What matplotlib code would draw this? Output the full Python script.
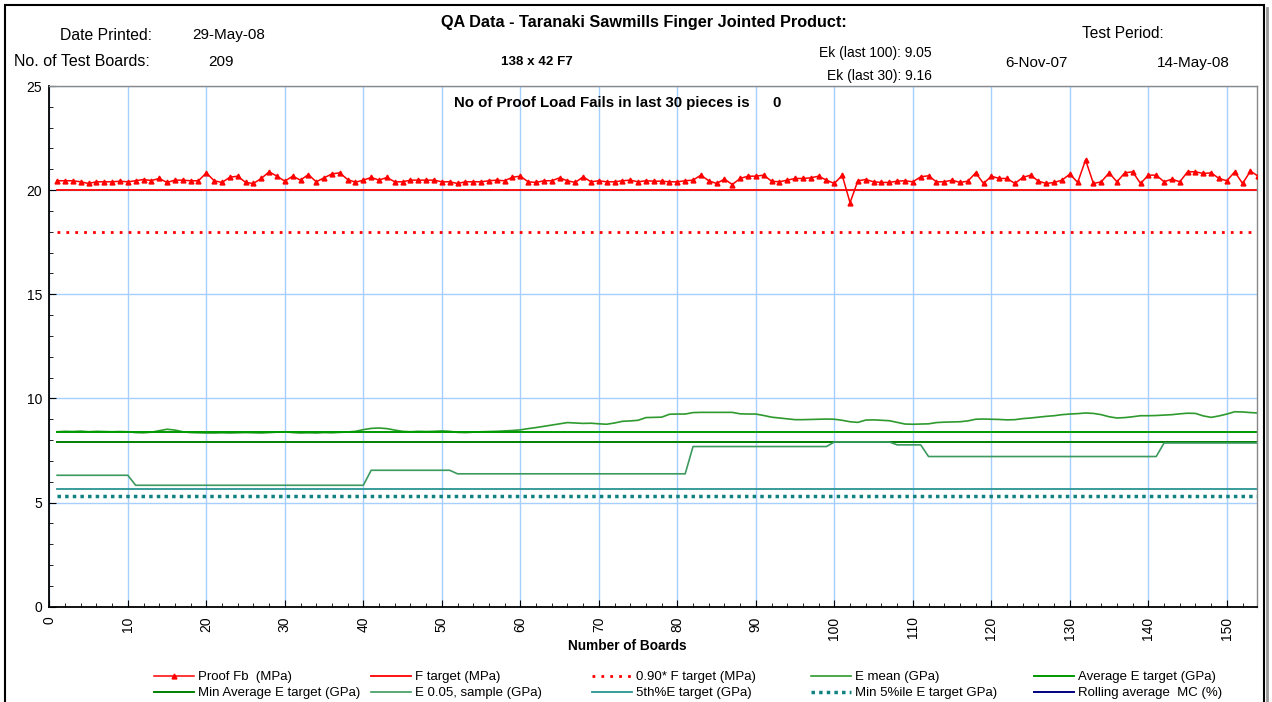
import numpy as np
import matplotlib
matplotlib.use("Agg")
import matplotlib.pyplot as plt
from matplotlib.lines import Line2D
from matplotlib.patches import Rectangle
from matplotlib.ticker import MultipleLocator

plt.rcParams['font.family'] = ['Liberation Sans', 'DejaVu Sans']

# ---- data ----
boards = np.arange(1, 155)

proof_fb = [
    20.45, 20.45, 20.45, 20.40, 20.32, 20.40, 20.40, 20.40, 20.43, 20.40,
    20.45, 20.51, 20.46, 20.56, 20.37, 20.48, 20.48, 20.45, 20.45, 20.83,
    20.45, 20.37, 20.62, 20.67, 20.37, 20.32, 20.56, 20.88, 20.67, 20.43,
    20.67, 20.48, 20.75, 20.40, 20.59, 20.78, 20.83, 20.51, 20.38, 20.48,
    20.61, 20.48, 20.61, 20.40, 20.40, 20.48, 20.48, 20.48, 20.48, 20.40,
    20.40, 20.32, 20.40, 20.40, 20.40, 20.45, 20.48, 20.45, 20.62, 20.67,
    20.40, 20.37, 20.45, 20.45, 20.59, 20.45, 20.37, 20.64, 20.40, 20.45,
    20.40, 20.40, 20.45, 20.48, 20.40, 20.45, 20.43, 20.43, 20.40, 20.40,
    20.45, 20.48, 20.72, 20.45, 20.32, 20.53, 20.27, 20.56, 20.67, 20.67,
    20.72, 20.43, 20.40, 20.48, 20.56, 20.56, 20.59, 20.67, 20.48, 20.32,
    20.71, 19.40, 20.45, 20.51, 20.40, 20.37, 20.37, 20.43, 20.45, 20.40,
    20.64, 20.69, 20.40, 20.40, 20.48, 20.37, 20.43, 20.83, 20.32, 20.67,
    20.56, 20.56, 20.32, 20.61, 20.72, 20.43, 20.32, 20.37, 20.48, 20.77,
    20.37, 21.45, 20.32, 20.40, 20.83, 20.40, 20.83, 20.88, 20.32, 20.72,
    20.72, 20.40, 20.53, 20.40, 20.88, 20.88, 20.80, 20.83, 20.56, 20.45,
    20.88, 20.32, 20.91, 20.67,
]

e_mean = [
    8.40, 8.42, 8.41, 8.43, 8.40, 8.42, 8.41, 8.40, 8.41, 8.40,
    8.36, 8.35, 8.38, 8.45, 8.52, 8.48, 8.40, 8.36, 8.35, 8.34,
    8.34, 8.35, 8.34, 8.35, 8.36, 8.35, 8.34, 8.36, 8.38, 8.40,
    8.36, 8.34, 8.35, 8.34, 8.36, 8.35, 8.37, 8.39, 8.42, 8.50,
    8.56, 8.58, 8.55, 8.48, 8.42, 8.40, 8.42, 8.41, 8.42, 8.44,
    8.42, 8.37, 8.36, 8.38, 8.40, 8.41, 8.42, 8.44, 8.46, 8.49,
    8.55, 8.60, 8.66, 8.72, 8.78, 8.84, 8.82, 8.80, 8.81, 8.78,
    8.76, 8.82, 8.90, 8.92, 8.95, 9.08, 9.09, 9.10, 9.24, 9.25,
    9.25, 9.32, 9.33, 9.33, 9.33, 9.33, 9.33, 9.26, 9.25, 9.25,
    9.18, 9.10, 9.06, 9.02, 8.98, 8.98, 8.99, 9.00, 9.01, 9.00,
    8.95, 8.88, 8.85, 8.96, 8.97, 8.95, 8.93, 8.85, 8.77, 8.76,
    8.77, 8.78, 8.84, 8.86, 8.87, 8.88, 8.92, 9.00, 9.01, 9.00,
    8.99, 8.97, 8.98, 9.03, 9.06, 9.10, 9.14, 9.17, 9.22, 9.25,
    9.27, 9.30, 9.28, 9.22, 9.12, 9.06, 9.08, 9.12, 9.17, 9.17,
    9.18, 9.20, 9.22, 9.26, 9.29, 9.28, 9.16, 9.09, 9.16, 9.25,
    9.36, 9.35, 9.32, 9.30,
]

# E 0.05 sample is a step series: level and how many boards it holds for
e05_levels = [6.31, 5.83, 6.55, 6.38, 7.69, 7.91, 7.77, 7.21, 7.86]
e05_counts = [10, 30, 11, 30, 18, 8, 4, 30, 13]
e05 = np.repeat(e05_levels, e05_counts)

f_target = 20.0
f_target_90 = 18.0
avg_e_target = 8.4
min_avg_e_target = 7.9
e5_target = 5.65
min_e5_target = 5.3
rolling_mc = []  # in legend only, nothing plotted in range

W, H = 1272, 702


def fx(px):
    return px / W


def fy(py):
    return 1 - py / H


fig = plt.figure(figsize=(W / 100, H / 100), dpi=100)
ax = fig.add_axes([fx(49.3), fy(606.7), fx(1256.7) - fx(49.3), fy(86) - fy(606.7)])

span = [boards[0], boards[-1]]
h_fb, = ax.plot(boards, proof_fb, color="#FF0000", lw=1.1, marker="^", ms=3.5,
                label="Proof Fb  (MPa)", zorder=5)
h_ft, = ax.plot(span, [f_target] * 2, color="#FF0000", lw=1.3, label="F target (MPa)")
h_f90, = ax.plot(span, [f_target_90] * 2, color="#FF0000", lw=2, ls=(0, (1, 2.2)),
                 label="0.90* F target (MPa)")
h_em, = ax.plot(boards, e_mean, color="#2E9A2E", lw=1.2, label="E mean (GPa)")
h_aet, = ax.plot(span, [avg_e_target] * 2, color="#009900", lw=1.4,
                 label="Average E target (GPa)")
h_maet, = ax.plot(span, [min_avg_e_target] * 2, color="#007F00", lw=1.4,
                  label="Min Average E target (GPa)")
h_e05, = ax.plot(boards, e05, color="#3C9A5F", lw=1.2, label="E 0.05, sample (GPa)")
h_e5, = ax.plot(span, [e5_target] * 2, color="#2A9494", lw=1.3, label="5th%E target (GPa)")
h_me5, = ax.plot(span, [min_e5_target] * 2, color="#108080", lw=2.5, ls=(0, (1, 1.2)),
                 label="Min 5%ile E target GPa)")
h_mc, = ax.plot(rolling_mc, rolling_mc, color="#000080", lw=1.4,
                label="Rolling average  MC (%)")

ax.set_xlim(0, 153.8)
ax.set_ylim(0, 25)
ax.xaxis.set_major_locator(MultipleLocator(10))
ax.xaxis.set_minor_locator(MultipleLocator(2))
ax.yaxis.set_major_locator(MultipleLocator(5))
ax.yaxis.set_minor_locator(MultipleLocator(1))
ax.grid(True, which="major", color="#A6CFFF", lw=1)
ax.set_axisbelow(True)
ax.tick_params(which="both", direction="in", labelsize=10, colors="black")
ax.tick_params(which="major", length=5)
ax.tick_params(which="minor", length=3)
ax.tick_params(axis="x", labelrotation=90, pad=7)
ax.tick_params(axis="y", pad=5)
for s in ["left", "bottom"]:
    ax.spines[s].set_color("black")
    ax.spines[s].set_linewidth(1.3)
for s in ["top", "right"]:
    ax.spines[s].set_color("#888888")
    ax.spines[s].set_linewidth(1)

ax.text(fx(454), fy(103), "No of Proof Load Fails in last 30 pieces is",
        transform=fig.transFigure, fontsize=10.8, fontweight="bold", va="center")
ax.text(fx(777), fy(103), "0", transform=fig.transFigure, fontsize=10.8,
        fontweight="bold", va="center", ha="center")
fig.text(fx(627), fy(646), "Number of Boards", fontsize=9.8, fontweight="bold",
         ha="center", va="center")

# ---- header block ----
fig.text(fx(644), fy(22), "QA Data - Taranaki Sawmills Finger Jointed Product:",
         fontsize=11.7, fontweight="bold", ha="center", va="center")
fig.text(fx(60), fy(35), "Date Printed:", fontsize=11.3, va="center")
fig.text(fx(192), fy(35), "29-May-08", fontsize=11, va="center")
fig.text(fx(14), fy(62), "No. of Test Boards:", fontsize=11.5, va="center")
fig.text(fx(208), fy(62), "209", fontsize=11, va="center")
fig.text(fx(537), fy(62), "138 x 42 F7", fontsize=9.6, fontweight="bold",
         ha="center", va="center")
fig.text(fx(932), fy(53), "Ek (last 100): 9.05", fontsize=10, ha="right", va="center")
fig.text(fx(932), fy(76), "Ek (last 30): 9.16", fontsize=10, ha="right", va="center")
fig.text(fx(1082), fy(33), "Test Period:", fontsize=11.2, va="center")
fig.text(fx(1036), fy(63), "6-Nov-07", fontsize=11, ha="center", va="center")
fig.text(fx(1193), fy(63), "14-May-08", fontsize=11, ha="center", va="center")

# ---- legend: five equal columns, two rows ----
columns = [(h_fb, h_maet), (h_ft, h_e05), (h_f90, h_e5), (h_em, h_me5), (h_aet, h_mc)]
col_x = [154, 371, 592, 811, 1034]
for cx, hs in zip(col_x, columns):
    fig.legend(handles=list(hs), loc="upper left", bbox_to_anchor=(fx(cx), fy(671)),
               frameon=False, fontsize=9.5, handlelength=3.0, handletextpad=0.3,
               borderpad=0, borderaxespad=0, labelspacing=0.3, numpoints=1)

# outer chart frame
fig.add_artist(Rectangle((fx(5), -0.1), fx(1264) - fx(5), fy(5) + 0.1,
                         transform=fig.transFigure, fill=False, ec="black", lw=1.5))
fig.add_artist(Line2D([fx(1267), fx(1267)], [0, fy(8)], transform=fig.transFigure,
                      color="#999999", lw=2))

fig.savefig("out.png", dpi=100)
